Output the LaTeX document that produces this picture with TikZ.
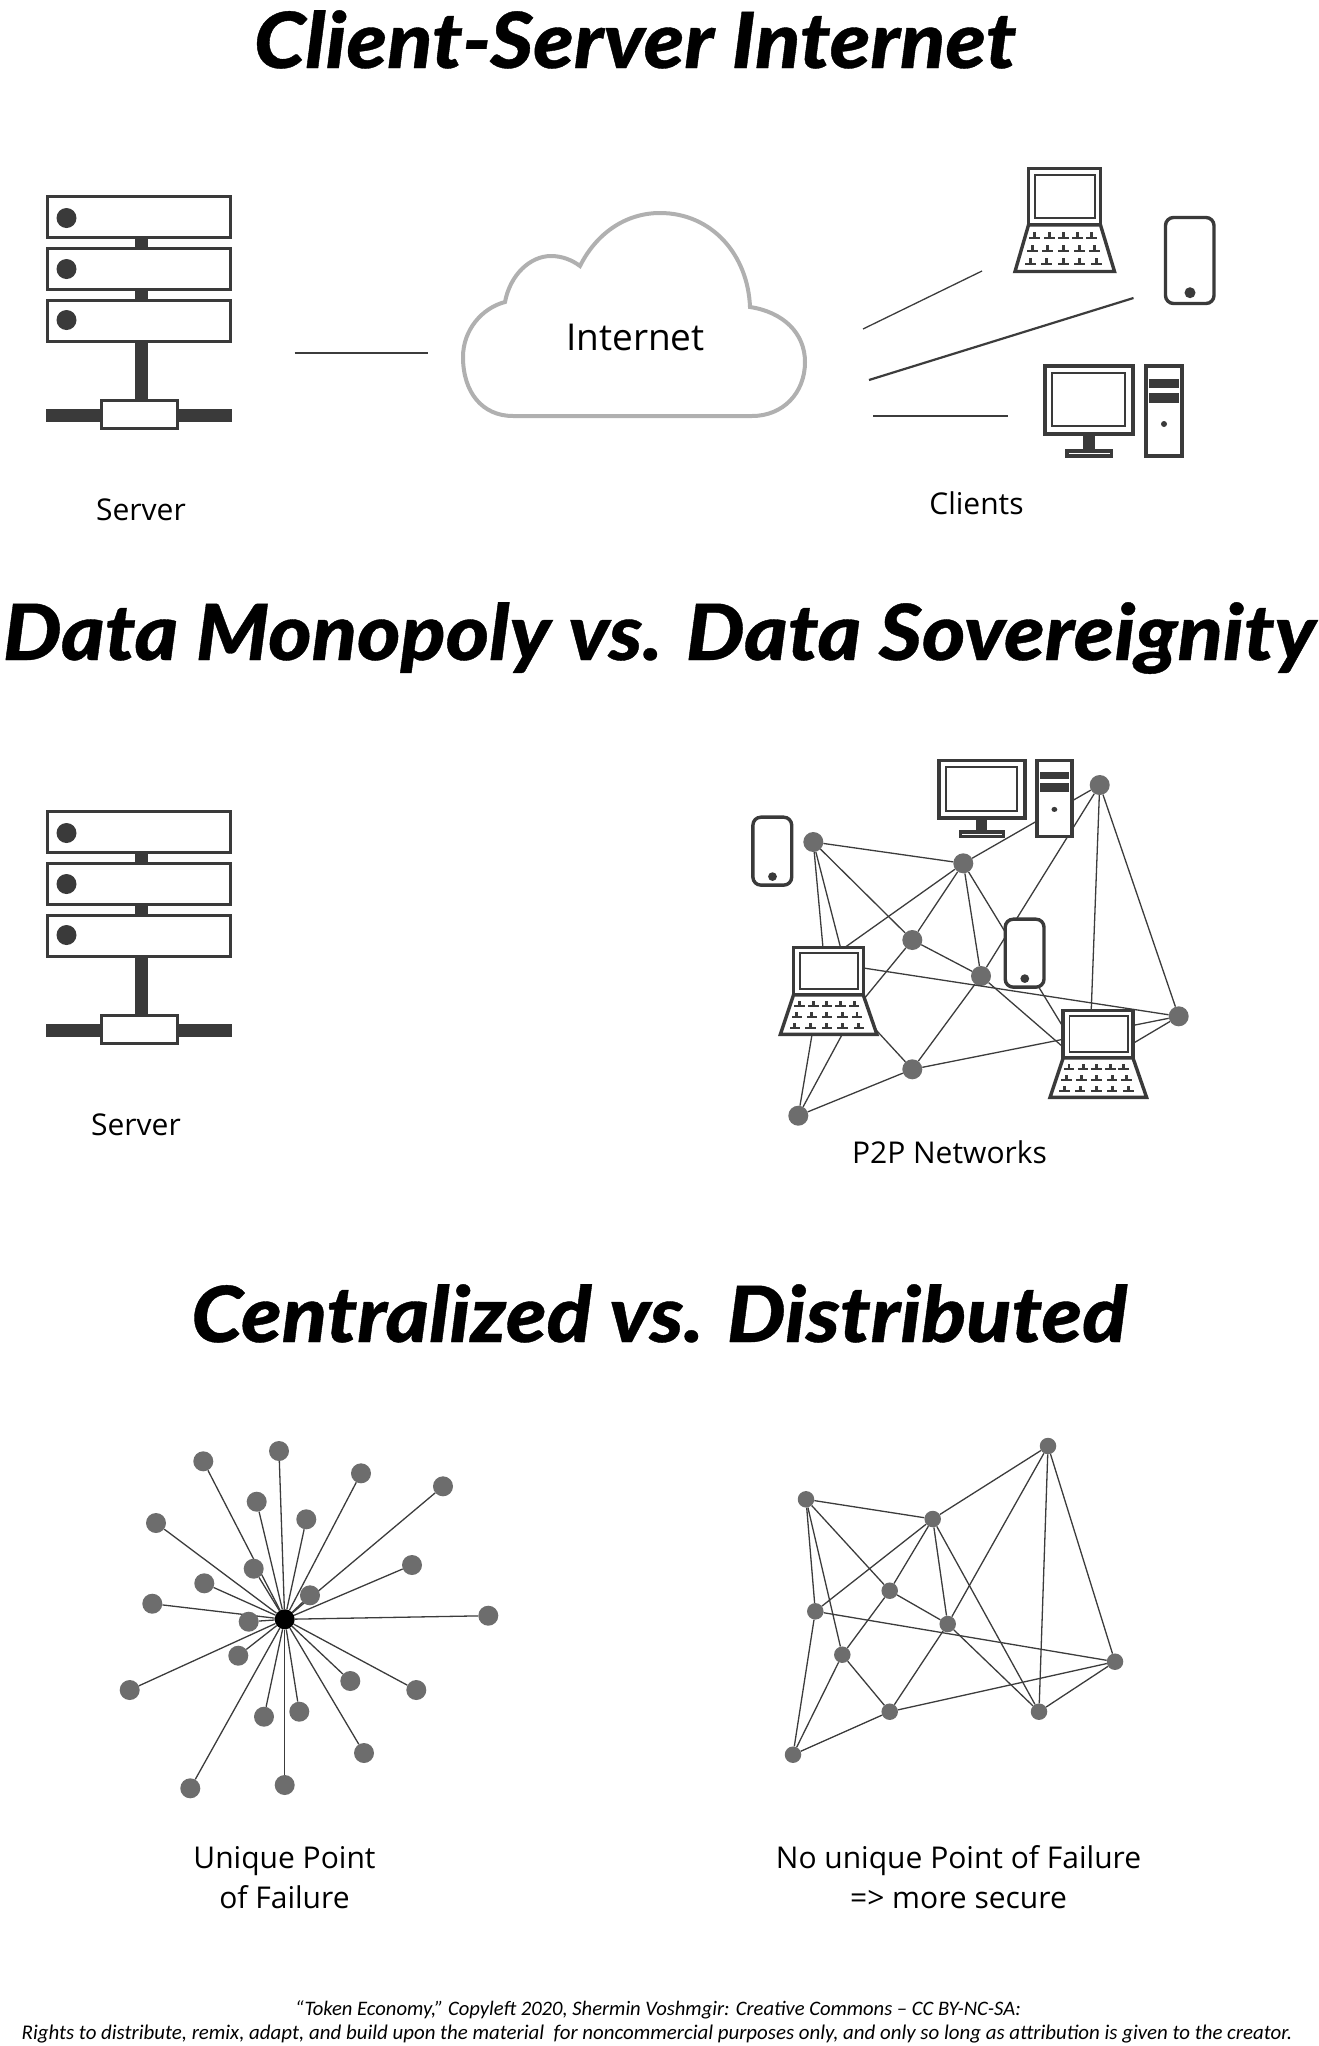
\documentclass[tikz,border=0pt]{standalone}
\usepackage{fontspec}
\usepackage{xcolor}
\usepackage{tikz}
\setmainfont{Open Sans}
\newfontfamily\titlefont[FakeStretch=1.07,FakeBold=0.5]{Lato Black Italic}
\newfontfamily\notefont{Carlito}
\definecolor{darkline}{RGB}{58,58,58}
\definecolor{wireline}{RGB}{60,60,60}
\definecolor{nodegray}{RGB}{109,109,109}
\definecolor{cloudgray}{RGB}{176,176,176}
\pgfdeclarelayer{wires}
\pgfsetlayers{wires,main}

% server rack, origin at top left of the first box
\newcommand{\drawserver}[2]{
\begin{scope}[shift={(#1,#2)}]
    \fill [darkline] (89,40) rectangle (102,210);
    \fill [darkline] (0,214) rectangle (186,227);
    \foreach \top/\doty in {0/23,52/74,104/125} {
        \draw [device] (1.5,\top+1.5) rectangle (184.5,\top+42.5);
        \fill [darkline] (20.5,\doty) circle (10);
    }
    \draw [device] (55.5,205.5) rectangle (131.5,233.5);
\end{scope}}
% laptop, origin at top left of the screen
\newcommand{\drawlaptop}[4]{
\begin{scope}[shift={(#1,#2)}, xscale=#3, yscale=#4]
    \draw [device] (1.5,1.5) rectangle (73.5,58);
    \draw [device, line width=1.8pt] (8,8) rectangle (68,51);
    \draw [device] (1.5,58) -- (73.5,58) -- (87.5,104.5) -- (-12,104.5) -- cycle;
    \foreach \row/\keyx in {69/{7.5,22,36,50,64}, 82/{5,20.5,36,52,67}, 95/{3,19,36,52,69}} {
        \foreach \col in \keyx {
            \fill [darkline] (\col-1.5,\row-4) rectangle (\col+1.5,\row+3);
            \fill [darkline] (\col-5.5,\row+1) rectangle (\col+5.5,\row+3);
        }
    }
\end{scope}}
% phone, origin at top left
\newcommand{\drawphone}[4]{
\begin{scope}[shift={(#1,#2)}, xscale=#3, yscale=#4]
    \draw [device, rounded corners=8pt] (1.5,1.5) rectangle (50,87.5);
    \fill [darkline] (26,76.7) circle (5.5);
\end{scope}}
% desktop computer, origin at top left of the monitor
\newcommand{\drawdesktop}[4]{
\begin{scope}[shift={(#1,#2)}, xscale=#3, yscale=#4]
    \fill [darkline] (40,72) rectangle (52,87);
    \draw [device, line width=3.8pt] (1.7,1.7) rectangle (90.3,70.3);
    \draw [device, line width=1.8pt] (9.3,9.2) rectangle (82.1,62.1);
    \draw [device] (24,87) rectangle (68.4,92);
    \draw [device] (103,2) rectangle (139,92);
    \fill [darkline] (106,15) rectangle (136,24);
    \fill [darkline] (106,29) rectangle (136,39);
    \fill [darkline] (121,60) circle (3);
\end{scope}}

\begin{document}
\begin{tikzpicture}[x=1pt, y=-1pt]
    \tikzset{device/.style={draw=darkline, line width=3.4pt, fill=white}}
    \tikzstyle{heading} = [anchor=base, inner sep=0, font=\titlefont\fontsize{77.5}{84}\selectfont]
    \tikzstyle{caption} = [anchor=base, inner sep=0, align=center, font=\fontsize{30}{39.5}\selectfont]
    \tikzstyle{note} = [anchor=base, inner sep=0, font=\notefont\itshape\fontsize{21}{24}\selectfont]
    \tikzstyle{peer} = [circle, fill=nodegray, minimum size=20pt, inner sep=0]
    \tikzstyle{smallpeer} = [circle, fill=nodegray, minimum size=16.5pt, inner sep=0]
    \tikzstyle{hub} = [circle, fill=black, minimum size=20pt, inner sep=0]
    \tikzstyle{wire} = [draw=wireline, line width=1.3pt]
    \useasboundingbox (0,0) rectangle (1318,2046);

    % Headings
    \node [heading] (title1) at (635,68) {Client-Server Internet};
    \node [heading] (title2) at (659,660) {Data Monopoly vs. Data Sovereignity};
    \node [heading] (title3) at (659,1342) {Centralized vs. Distributed};

    % Client-server row
    \drawserver{46}{195}
    \node [caption] (server1) at (141,520.7) {Server};
    \draw [draw=cloudgray, line width=4pt, fill=white] (513,416) .. controls (482,416) and (463,392) .. (463,357)
        .. controls (463,330) and (482,308) .. (505,302) .. controls (510,275) and (530,256) .. (551,256)
        .. controls (562,256) and (572,260) .. (580,266) .. controls (596,234) and (625,213) .. (660,213)
        .. controls (712,213) and (748,255) .. (750,307) .. controls (783,312) and (805,333) .. (805,362)
        .. controls (805,393) and (783,416) .. (752,416) -- cycle;
    \node [caption, font=\fontsize{37}{40}\selectfont] (internet) at (635.5,350) {Internet};
    \drawlaptop{1027}{167}{1}{1}
    \drawphone{1164}{216}{1}{1}
    \drawdesktop{1043}{364}{1}{1}
    \node [caption] (clients) at (976.5,514) {Clients};

    % Loose links
    \coordinate (linkA1) at (294.6,353);
    \coordinate (linkA2) at (428,353);
    \coordinate (linkB1) at (863,329);
    \coordinate (linkB2) at (982,271);
    \coordinate (linkC1) at (869,380);
    \coordinate (linkC2) at (1133.5,298);
    \coordinate (linkD1) at (873.4,416);
    \coordinate (linkD2) at (1008,416);
    \draw [wire] (linkA1) -- (linkA2);
    \draw [wire] (linkB1) -- (linkB2);
    \draw [wire, line width=2.2pt] (linkC1) -- (linkC2);
    \draw [wire] (linkD1) -- (linkD2);

    % Monopoly row
    \drawserver{46}{810}
    \node [caption] (server2) at (136,1135) {Server};

    % P2P network
    \node [peer] (pa) at (813.3,842) {};
    \node [peer] (pb) at (963.3,863.3) {};
    \node [peer] (pc) at (1099.7,785) {};
    \node [peer] (pd) at (912.3,940) {};
    \coordinate (pe) at (824.3,962);
    \node [peer] (pf) at (981,976) {};
    \coordinate (pg) at (856.2,1008.4);
    \node [peer] (ph) at (1178.7,1016.3) {};
    \node [peer] (pi) at (912.3,1069.3) {};
    \coordinate (pj) at (1089,1069.5);
    \node [peer] (pk) at (798.3,1115.7) {};
    \foreach \from/\to in {a/b,a/e,a/g,a/d,b/c,b/e,b/d,b/f,b/j,c/f,c/j,c/h,d/f,d/g,e/h,e/k,f/i,f/j,g/i,g/k,i/k,i/h,j/h}
        \draw [wire] (p\from) -- (p\to);
    \drawdesktop{937}{759}{0.97}{0.84}
    \drawphone{751.7}{816}{0.8}{0.79}
    \drawphone{1004}{918}{0.8}{0.79}
    \drawlaptop{792}{946}{0.97}{0.845}
    \drawlaptop{1061.7}{1009}{0.97}{0.845}
    \node [caption] (p2plabel) at (949.5,1163) {P2P Networks};

    % Centralized star
    \foreach \name/\x/\y in {1/203.3/1461.3, 2/279/1451, 3/361/1473.3, 4/443/1486.3, 5/256.7/1501.7,
        6/306.3/1519.3, 7/156/1523, 8/253.7/1568.7, 9/412/1565, 10/204.3/1583.3, 11/310/1595.3,
        12/152.3/1603.7, 13/248.7/1621.7, 14/488.3/1615.7, 15/238.3/1655.7, 16/129.7/1690,
        17/350.3/1681, 18/416.3/1690, 19/264/1716.7, 20/299.3/1711.7, 21/364/1753, 22/284.7/1785, 23/190.3/1788.3} {
        \node [peer] (s\name) at (\x,\y) {};
    }
    \node [hub] (center) at (284.7,1619.3) {};
    \begin{pgfonlayer}{wires}
    \foreach \name in {1,...,23}
        \draw [wire] (center) -- (s\name);
    \end{pgfonlayer}
    \node [caption] (unique) at (284.5,1908) {Unique Point\\of Failure};

    % Distributed mesh
    \node [smallpeer] (ma) at (806,1499.3) {};
    \node [smallpeer] (mb) at (932.7,1519) {};
    \node [smallpeer] (mc) at (1048,1446) {};
    \node [smallpeer] (md) at (889.7,1590.7) {};
    \node [smallpeer] (me) at (815.3,1611.3) {};
    \node [smallpeer] (mf) at (947.7,1624) {};
    \node [smallpeer] (mg) at (842.3,1654.7) {};
    \node [smallpeer] (mh) at (1115,1661.7) {};
    \node [smallpeer] (mi) at (889.7,1711.7) {};
    \node [smallpeer] (mj) at (1039,1711.7) {};
    \node [smallpeer] (mk) at (793,1754.7) {};
    \foreach \from/\to in {a/b,a/e,a/g,a/d,b/c,b/e,b/d,b/f,b/j,c/f,c/j,c/h,d/f,d/g,e/h,e/k,f/i,f/j,g/i,g/k,i/k,i/h,j/h}
        \draw [wire] (m\from) -- (m\to);
    \node [caption] (nounique) at (958.5,1908) {No unique Point of Failure\\=> more secure};

    % Footer
    \node [note, font=\notefont\itshape\fontsize{20.6}{24}\selectfont] (credit1) at (658,2015) {“Token Economy,” Copyleft 2020, Shermin Voshmgir: Creative Commons – CC BY-NC-SA:};
    \node [note, font=\notefont\itshape\fontsize{20.9}{24}\selectfont] (credit2) at (657,2039) {Rights to distribute, remix, adapt, and build upon the material\ \ for noncommercial purposes only, and only so long as attribution is given to the creator.};
\end{tikzpicture}
\end{document}
